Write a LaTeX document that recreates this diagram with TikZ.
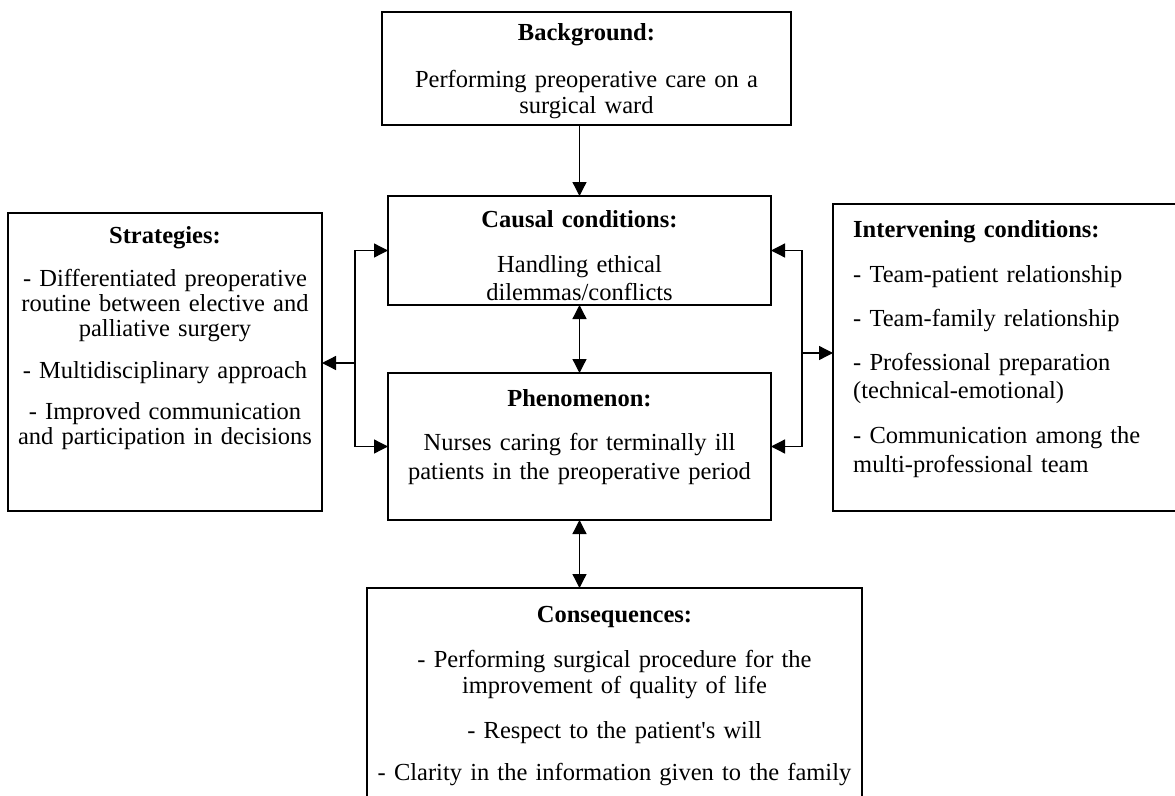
\documentclass[tikz,border=0pt]{standalone}
\usepackage{fontspec}
\setmainfont{Liberation Serif}
\usetikzlibrary{arrows.meta}
\begin{document}
\begin{tikzpicture}[x=1pt,y=-1pt,
  box/.style={draw, line width=1.8pt, inner sep=0pt, outer sep=0pt, anchor=north west},
  txt/.style={anchor=base, inner sep=0pt, text width=#1, align=center},
  ltxt/.style={anchor=base west, inner sep=0pt, text width=#1, align=left},
  conn/.style={line width=1.3pt, -{Triangle[length=14pt,width=14pt]}},
  dconn/.style={line width=1.3pt, {Triangle[length=14pt,width=14pt]}-{Triangle[length=14pt,width=14pt]}},
  ]
\useasboundingbox (0,0) rectangle (1175,795);

% boxes
\node[box, minimum width=409pt, minimum height=113pt] (bg) at (382,12) {};
\node[box, minimum width=383pt, minimum height=109pt] (causal) at (388,196) {};
\node[box, minimum width=383pt, minimum height=147pt] (phen) at (388,373) {};
\node[box, minimum width=495pt, minimum height=230pt] (cons) at (367,588) {};
\node[box, minimum width=314pt, minimum height=298pt] (strat) at (8,213) {};
\node[box, minimum width=360pt, minimum height=307pt] (interv) at (833,204) {};

% texts
\node[txt=400pt, font=\fontsize{24.5}{26}\selectfont] (bgt) at (586.5,40)
  {\textbf{Background:}\\[21pt] Performing preoperative care on a\\ surgical ward};
\node[txt=380pt, font=\fontsize{24.5}{28}\selectfont] (causalt) at (579.5,227)
  {\textbf{Causal conditions:}\\[17pt] Handling ethical\\ dilemmas/conflicts};
\node[txt=380pt, font=\fontsize{24.5}{29}\selectfont] (phent) at (579.5,406)
  {\textbf{Phenomenon:}\\[15pt] Nurses caring for terminally ill\\ patients in the preoperative period};
\node[txt=490pt, font=\fontsize{24.5}{26.5}\selectfont] (const) at (614.5,622)
  {\textbf{Consequences:}\\[18.5pt] - Performing surgical procedure for the\\ improvement of quality of life\\[18.5pt]
   - Respect to the patient\textquotesingle s will\\[15.5pt] - Clarity in the information given to the family};
\node[txt=312pt, font=\fontsize{24.5}{25}\selectfont] (stratt) at (165,243)
  {\textbf{Strategies:}\\[18pt] - Differentiated preoperative\\ routine between elective and\\ palliative surgery\\[17pt]
   - Multidisciplinary approach\\[16pt] - Improved communication\\ and participation in decisions};
\node[ltxt=330pt, font=\fontsize{24.5}{28.5}\selectfont] (intervt) at (853,237)
  {\textbf{Intervening conditions:}\\[16.5pt] - Team-patient relationship\\[15.5pt] - Team-family relationship\\[15.5pt]
   - Professional preparation\\ (technical-emotional)\\[16.5pt] - Communication among the\\ multi-professional team};

% connectors
\draw[conn] (causal.north |- bg.south) -- (causal.north);
\draw[dconn] (causal.south) -- (phen.north);
\draw[dconn] (phen.south) -- (phen.south |- cons.north);
\coordinate (lb) at (355,363);
\draw[dconn] (causal.west) -| (lb) |- (phen.west);
\draw[conn] (lb) -- (strat.east |- lb);
\coordinate (rb) at (802,353);
\draw[dconn] (causal.east) -| (rb) |- (phen.east);
\draw[conn] (rb) -- (interv.west |- rb);
\end{tikzpicture}
\end{document}
